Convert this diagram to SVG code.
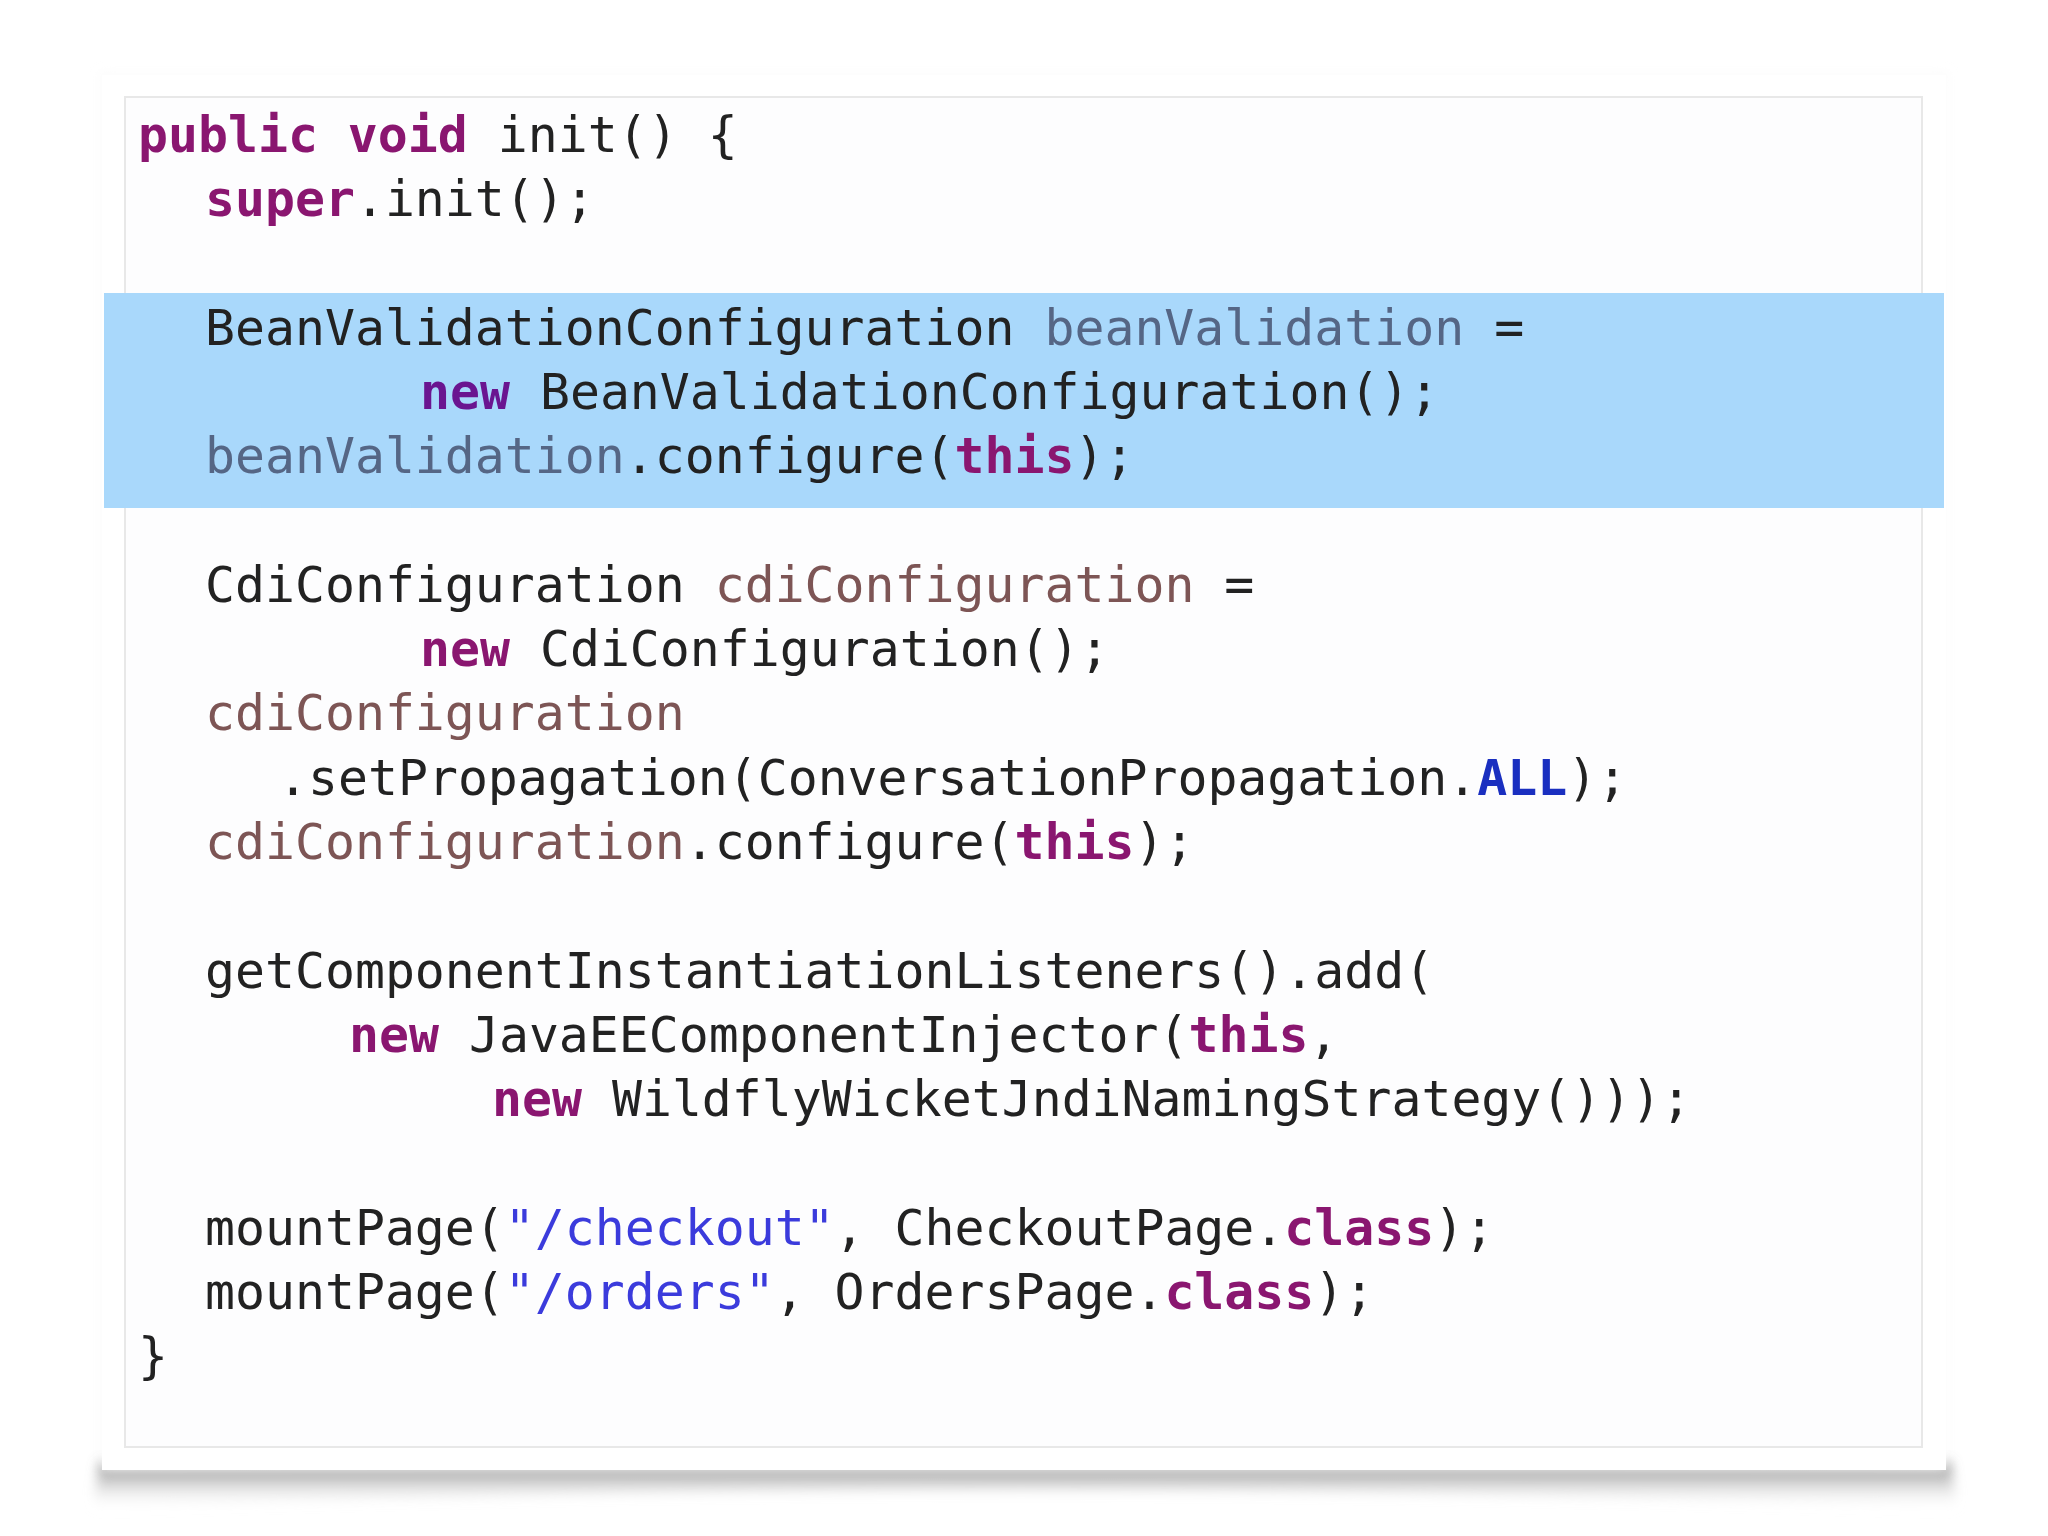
<svg xmlns="http://www.w3.org/2000/svg" width="2048" height="1536" viewBox="0 0 2048 1536">
<defs>
<filter id="sh" x="-10%" y="-10%" width="120%" height="130%"><feGaussianBlur stdDeviation="6"/></filter>
<linearGradient id="bot" x1="0" y1="0" x2="0" y2="1"><stop offset="0" stop-color="#555"/><stop offset="1" stop-color="#fff" stop-opacity="0"/></linearGradient>
<style>
text{font-family:"DejaVu Sans Mono","Liberation Mono",monospace;font-size:49.8px;fill:#222;white-space:pre}
.k{fill:#8a1670;font-weight:bold}.n{fill:#6a1590;font-weight:bold}.bv{fill:#556685}.cv{fill:#7d5555}.c{fill:#1a2fc0;font-weight:bold}.s{fill:#3b3bdc}
</style>
</defs>
<rect width="2048" height="1536" fill="#fff"/>
<path d="M100 1462 Q1024 1450 1950 1462 L1958 1510 Q1024 1470 92 1510 Z" fill="url(#bot)" filter="url(#sh)"/>
<rect x="102" y="75" width="1844" height="1395" fill="#fff" stroke="#e6e6e6" filter="url(#sh)"/>
<rect x="102" y="75" width="1844" height="1395" fill="#fff"/>
<rect x="125" y="97" width="1797" height="1350" fill="#fdfdfe" stroke="#e8e8e8" stroke-width="2"/>
<rect x="104" y="293" width="1840" height="215" fill="#a9d8fb"/>
<g id="code">
<text x="138" y="152" xml:space="preserve"><tspan class="k">public void</tspan> init() {</text>
<text x="205" y="216"><tspan class="k">super</tspan>.init();</text>
<text x="205" y="345" xml:space="preserve">BeanValidationConfiguration <tspan class="bv">beanValidation</tspan> =</text>
<text x="420" y="409" xml:space="preserve"><tspan class="n">new</tspan> BeanValidationConfiguration();</text>
<text x="205" y="473"><tspan class="bv">beanValidation</tspan>.configure(<tspan class="k">this</tspan>);</text>
<text x="205" y="602" xml:space="preserve">CdiConfiguration <tspan class="cv">cdiConfiguration</tspan> =</text>
<text x="420" y="666" xml:space="preserve"><tspan class="k">new</tspan> CdiConfiguration();</text>
<text x="205" y="730" class="cv">cdiConfiguration</text>
<text x="278" y="795">.setPropagation(ConversationPropagation.<tspan class="c">ALL</tspan>);</text>
<text x="205" y="859"><tspan class="cv">cdiConfiguration</tspan>.configure(<tspan class="k">this</tspan>);</text>
<text x="205" y="988">getComponentInstantiationListeners().add(</text>
<text x="349" y="1052" xml:space="preserve"><tspan class="k">new</tspan> JavaEEComponentInjector(<tspan class="k">this</tspan>,</text>
<text x="492" y="1116" xml:space="preserve"><tspan class="k">new</tspan> WildflyWicketJndiNamingStrategy()));</text>
<text x="205" y="1245" xml:space="preserve">mountPage(<tspan class="s">"/checkout"</tspan>, CheckoutPage.<tspan class="k">class</tspan>);</text>
<text x="205" y="1309" xml:space="preserve">mountPage(<tspan class="s">"/orders"</tspan>, OrdersPage.<tspan class="k">class</tspan>);</text>
<text x="138" y="1373">}</text>
</g>
</svg>
